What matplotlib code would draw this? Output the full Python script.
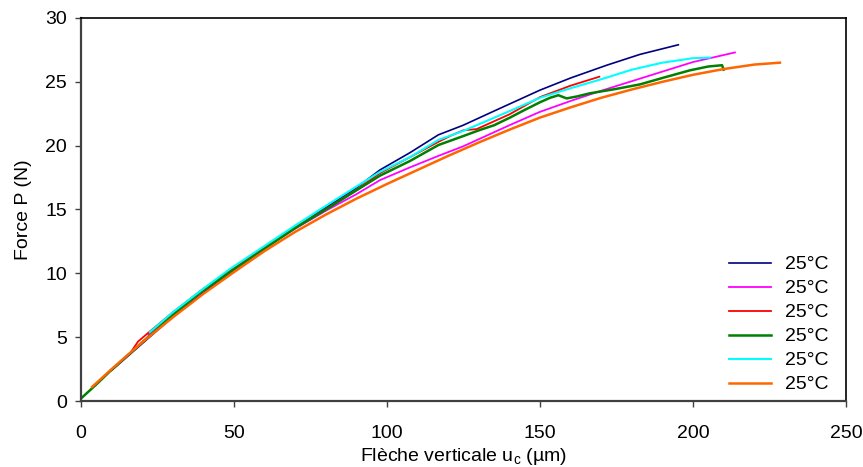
import matplotlib
matplotlib.use("Agg")
import matplotlib.pyplot as plt

plt.rcParams['font.family'] = ['Liberation Sans', 'DejaVu Sans']

# essais a 25°C : fleche verticale (um) / force (N)
navy_x = [10, 20, 30, 40, 50, 60, 70, 80, 90, 97.7, 107.5, 116.8, 124.9, 135.8, 150, 160, 171.8, 182.7, 195.2]
navy_y = [2.4, 4.5, 6.6, 8.5, 10.3, 12.0, 13.6, 15.15, 16.7, 18.1, 19.45, 20.85, 21.6, 22.8, 24.35, 25.3, 26.3, 27.15, 27.9]

magenta_x = [22, 30, 40, 50, 60, 70, 80, 90, 97.7, 107.5, 116.8, 124.9, 140, 150, 160, 170, 180, 190, 200, 213.7]
magenta_y = [5.2, 6.85, 8.7, 10.35, 12.0, 13.5, 14.9, 16.2, 17.3, 18.3, 19.2, 19.95, 21.6, 22.65, 23.5, 24.3, 25.05, 25.8, 26.55, 27.3]

red_x = [16.5, 18.6, 22, 30, 40, 50, 60, 70, 81.4, 90, 97.7, 107.5, 116.8, 121, 124.9, 129.3, 140, 150, 160, 169.4]
red_y = [3.9, 4.65, 5.35, 6.95, 8.8, 10.4, 12.05, 13.6, 15.25, 16.55, 17.85, 19.1, 20.3, 20.8, 21.2, 21.3, 22.45, 23.8, 24.7, 25.4]

green_x = [0, 5, 10, 20, 30, 38.9, 50, 60.1, 70, 81.4, 90, 97.7, 107.5, 116.8, 124.9, 130, 135, 140.2, 145, 150,
           153.3, 156, 158.7, 162, 166.3, 175, 182.7, 190, 199, 205, 209.5, 210]
green_y = [0.2, 1.3, 2.45, 4.6, 6.75, 8.5, 10.3, 11.95, 13.55, 15.2, 16.5, 17.65, 18.8, 20.05, 20.75, 21.2, 21.6, 22.2, 22.8, 23.4,
           23.75, 23.95, 23.7, 23.85, 24.1, 24.45, 24.8, 25.3, 25.9, 26.2, 26.3, 25.95]

cyan_x = [22.5, 30, 40, 48.7, 60, 70, 81.4, 90, 97.7, 107.5, 116.8, 124.9, 140, 150, 160, 170, 180, 190, 200, 205.6]
cyan_y = [5.4, 6.95, 8.8, 10.35, 12.15, 13.75, 15.5, 16.8, 17.95, 19.1, 20.45, 21.15, 22.7, 23.75, 24.5, 25.2, 25.95, 26.5, 26.85, 26.9]

orange_x = [3.6, 10, 20, 30, 40, 50, 60, 70, 80, 90, 100, 110, 120, 130, 140, 150, 160, 170, 180, 190, 200, 210, 220, 228.4]
orange_y = [1.1, 2.5, 4.6, 6.55, 8.4, 10.1, 11.75, 13.25, 14.6, 15.85, 17.0, 18.1, 19.2, 20.25, 21.25, 22.2, 23.0, 23.75, 24.4, 25.0, 25.55, 26.0, 26.35, 26.5]

fig = plt.figure(figsize=(8.63, 4.67), dpi=100)
ax = fig.add_axes([0.0939, 0.1413, 0.8864, 0.8202])

ax.plot(navy_x, navy_y, color='#000080', linewidth=1.2, label='25°C')
ax.plot(magenta_x, magenta_y, color='#FF00FF', linewidth=1.3, label='25°C')
ax.plot(red_x, red_y, color='#FF0000', linewidth=1.3, label='25°C')
ax.plot(green_x, green_y, color='#008000', linewidth=1.8, label='25°C')
ax.plot(cyan_x, cyan_y, color='#00FFFF', linewidth=1.5, label='25°C')
ax.plot(orange_x, orange_y, color='#FF6600', linewidth=1.8, label='25°C')

ax.set_xlim(0, 250)
ax.set_ylim(0, 30)
ax.set_xticks([0, 50, 100, 150, 200, 250])
ax.set_yticks([0, 5, 10, 15, 20, 25, 30])

for s in ['left', 'bottom']:
    ax.spines[s].set_color('#404040')
    ax.spines[s].set_linewidth(1.6)
for s in ['top', 'right']:
    ax.spines[s].set_color('black')
    ax.spines[s].set_linewidth(1.2)

ax.tick_params(axis='x', direction='out', length=4, width=1, color='#404040', labelsize=14, pad=13)
ax.tick_params(axis='y', direction='out', length=4, width=1, color='#404040', labelsize=14, pad=6)

ax.set_xlabel('Flèche verticale u$_\\mathregular{c}$ (µm)', fontsize=14, labelpad=3)
ax.set_ylabel('Force P (N)', fontsize=14, labelpad=10)

ax.legend(loc='lower right', bbox_to_anchor=(1.0, -0.026), frameon=False, fontsize=14,
          handlelength=2.15, handletextpad=0.72, labelspacing=0.33)

fig.savefig('out.png', dpi=100)
